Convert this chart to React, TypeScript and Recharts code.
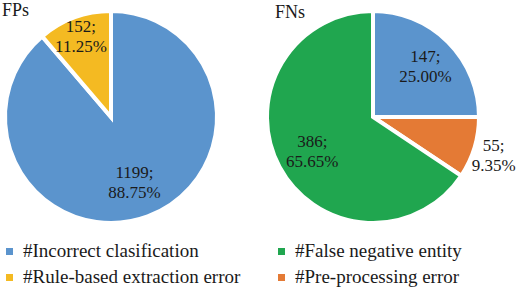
import React from 'react';
import { PieChart, Pie, Cell } from 'recharts';

const fpNames = ['#Incorrect clasification', '#Rule-based extraction error'];
const fpValues = [1199, 152];
const fnNames = ['#Incorrect clasification', '#Pre-processing error', '#False negative entity'];
const fnValues = [147, 55, 386];

const BLUE = '#5B94CD';
const YELLOW = '#F4BA22';
const GREEN = '#20A64F';
const ORANGE = '#E47A35';

const fpColors = [BLUE, YELLOW];
const fnColors = [BLUE, ORANGE, GREEN];

const fpData = fpNames.map((n, i) => ({ name: n, value: fpValues[i] }));
const fnData = fnNames.map((n, i) => ({ name: n, value: fnValues[i] }));

const FONT = 'Liberation Serif';
const RAD = Math.PI / 180;

const makeLabel = (total: number, factors: number[]) => (props: any) => {
  const { cx, cy, midAngle, outerRadius, index, value } = props;
  const r = outerRadius * factors[index];
  const x = cx + r * Math.cos(-midAngle * RAD);
  const y = cy + r * Math.sin(-midAngle * RAD);
  const pct = ((value / total) * 100).toFixed(2) + '%';
  return (
    <text x={x} y={y} textAnchor="middle" fill="#1a1a1a" style={{ fontFamily: FONT, fontSize: 17 }}>
      <tspan x={x} dy={-3}>{value};</tspan>
      <tspan x={x} dy={20}>{pct}</tspan>
    </text>
  );
};

const fpTotal = fpValues.reduce((a, b) => a + b, 0);
const fnTotal = fnValues.reduce((a, b) => a + b, 0);

const legendItems = [
  { name: '#Incorrect clasification', color: BLUE },
  { name: '#False negative entity', color: GREEN },
  { name: '#Rule-based extraction error', color: YELLOW },
  { name: '#Pre-processing error', color: ORANGE },
];

const textStyle: React.CSSProperties = { fontFamily: FONT, fontSize: 17, color: '#1a1a1a', lineHeight: '20px' };

export default function App() {
  return (
    <div style={{ position: 'absolute', left: 0, top: 0, width: 520, height: 288, background: '#fff' }}>
      <PieChart width={520} height={288} margin={{ top: 0, right: 0, bottom: 0, left: 0 }}>
        <Pie
          data={fpData}
          dataKey="value"
          cx={111}
          cy={117}
          outerRadius={106}
          startAngle={90}
          endAngle={-270}
          stroke="#fff"
          strokeWidth={4}
          isAnimationActive={false}
          labelLine={false}
          label={makeLabel(fpTotal, [0.64, 0.82])}
        >
          {fpData.map((d, i) => (
            <Cell key={i} fill={fpColors[i]} />
          ))}
        </Pie>
        <Pie
          data={fnData}
          dataKey="value"
          cx={373}
          cy={117}
          outerRadius={106}
          startAngle={90}
          endAngle={-270}
          stroke="#fff"
          strokeWidth={4}
          isAnimationActive={false}
          labelLine={false}
          label={makeLabel(fnTotal, [0.7, 1.19, 0.65])}
        >
          {fnData.map((d, i) => (
            <Cell key={i} fill={fnColors[i]} />
          ))}
        </Pie>
      </PieChart>
      <div style={{ ...textStyle, fontSize: 18, position: 'absolute', left: 2, top: 0 }}>FPs</div>
      <div style={{ ...textStyle, fontSize: 18, position: 'absolute', left: 275, top: 2 }}>FNs</div>
      {legendItems.map((it, i) => {
        const col = i % 2;
        const row = Math.floor(i / 2);
        return (
          <div
            key={i}
            style={{
              ...textStyle,
              fontSize: 19,
              lineHeight: '22px',
              position: 'absolute',
              left: col === 0 ? 6 : 278,
              top: 240 + row * 26,
              display: 'flex',
              alignItems: 'center',
              whiteSpace: 'nowrap',
            }}
          >
            <span style={{ display: 'inline-block', width: 7, height: 7, background: it.color, marginRight: 10 }} />
            <span>{it.name}</span>
          </div>
        );
      })}
    </div>
  );
}
